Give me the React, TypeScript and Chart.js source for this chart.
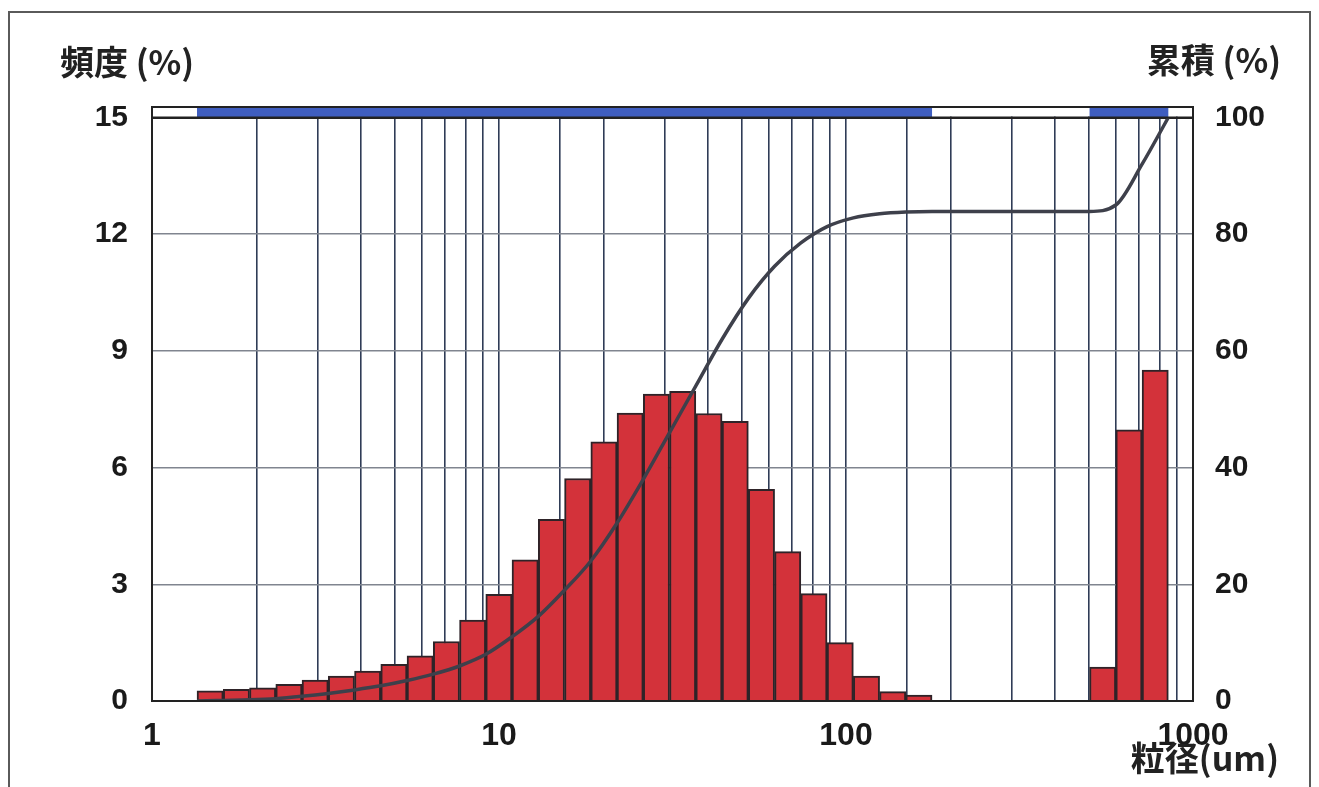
import { useEffect, useRef } from 'react';
import { Chart, registerables } from 'chart.js';

Chart.register(...registerables);

// Bin edges of the particle-size classes (µm)
const binEdges = [
  1.348, 1.605, 1.91, 2.274, 2.706, 3.221, 3.834, 4.564, 5.432, 6.466, 7.697, 9.161,
  10.9, 12.98, 15.45, 18.39, 21.89, 26.05, 31.01, 36.92, 43.94, 52.31, 62.26, 74.11,
  88.21, 105.0, 125.0, 148.7, 177.0, 210.7, 250.8, 298.5, 355.4, 423.0, 503.4, 599.2,
  713.3, 849.0,
];

// Frequency (%) for each class (between consecutive edges)
const frequency = [
  0.26, 0.3, 0.34, 0.43, 0.54, 0.64, 0.77, 0.94, 1.16, 1.53, 2.08, 2.74, 3.63, 4.67,
  5.72, 6.66, 7.4, 7.89, 7.96, 7.39, 7.19, 5.44, 3.84, 2.76, 1.5, 0.64, 0.24, 0.15,
  0, 0, 0, 0, 0, 0, 0.87, 6.97, 8.51,
];

// Cumulative (%) at each bin edge
const cumulative = [
  0, 0.1, 0.2, 0.4, 0.8, 1.3, 1.9, 2.6, 3.5, 4.6, 6.0, 8.0, 11.0, 14.5, 19.0, 24.0,
  30.5, 38.0, 46.0, 54.0, 62.0, 69.0, 74.5, 78.5, 81.3, 82.8, 83.5, 83.8, 83.9, 83.9,
  83.9, 83.9, 83.9, 83.9, 83.9, 85.0, 92.0, 100,
];

// Measured-range indicator band (µm) at the top of the plot
const bandRanges = [
  [1.348, 177.0],
  [503.4, 849.0],
];
const bandLevel = 15.14;

const xTicks = [1, 10, 100, 1000];
const xTickLabels = ['1', '10', '100', '1000'];

const leftTitle = '頻度 (%)';
const rightTitle = '累積 (%)';
const xTitle = '粒径(um)';

const yMax = 15.27;
const y2Max = (yMax / 15) * 100;

const decorPlugin = {
  id: 'decor',
  beforeDraw(chart: any) {
    const ctx = chart.ctx;
    ctx.save();
    ctx.fillStyle = '#ffffff';
    ctx.fillRect(0, 0, chart.width, chart.height);
    ctx.restore();
  },
  beforeDatasetsDraw(chart: any) {
    const { ctx, chartArea: a, scales } = chart;
    const y15 = scales.y.getPixelForValue(15);
    ctx.save();
    ctx.fillStyle = '#ffffff';
    ctx.fillRect(a.left + 1, a.top, a.right - a.left - 2, y15 - a.top - 1);
    ctx.restore();
  },
  afterDatasetsDraw(chart: any) {
    const { ctx, chartArea: a, scales } = chart;
    const y15 = scales.y.getPixelForValue(15);
    ctx.save();
    ctx.strokeStyle = '#222222';
    ctx.lineWidth = 2;
    ctx.strokeRect(a.left, a.top, a.right - a.left, a.bottom - a.top);
    ctx.beginPath();
    ctx.moveTo(a.left, y15);
    ctx.lineTo(a.right, y15);
    ctx.stroke();
    ctx.restore();
  },
  afterDraw(chart: any) {
    const ctx = chart.ctx;
    ctx.save();
    ctx.fillStyle = '#222222';
    ctx.font = 'bold 34px "Noto Sans CJK JP"';
    ctx.textBaseline = 'middle';
    ctx.textAlign = 'left';
    ctx.fillText(leftTitle, 60, 62);
    ctx.textAlign = 'right';
    ctx.fillText(rightTitle, 1281, 60);
    ctx.fillText(xTitle, 1279, 758);
    ctx.strokeStyle = '#5a5a5a';
    ctx.lineWidth = 2;
    ctx.strokeRect(9, 12, 1301, 820);
    ctx.restore();
  },
};

const tickFont = { family: '"Liberation Sans", Arial, sans-serif', size: 30, weight: 'bold' as const };

export default function App() {
  const ref = useRef<HTMLCanvasElement>(null);

  useEffect(() => {
    document.body.style.margin = '0';
    document.body.style.overflow = 'hidden';
    const barPoints = frequency.map((v, i) => ({
      x: Math.sqrt(binEdges[i] * binEdges[i + 1]),
      y: v,
    }));
    const cumPoints = cumulative.map((v, i) => ({ x: binEdges[i], y: v }));
    const bandSets = bandRanges.map((r) => ({
      type: 'line' as const,
      data: [
        { x: r[0], y: bandLevel },
        { x: r[1], y: bandLevel },
      ],
      xAxisID: 'x',
      yAxisID: 'y',
      borderColor: '#3f5ec0',
      borderWidth: 10,
      borderCapStyle: 'butt' as const,
      pointRadius: 0,
      fill: false,
      order: 2,
    }));

    const chart = new Chart(ref.current!, {
      type: 'bar',
      data: {
        datasets: [
          {
            type: 'line',
            label: '累積',
            data: cumPoints,
            xAxisID: 'x',
            yAxisID: 'y2',
            borderColor: '#3e404b',
            borderWidth: 3.5,
            pointRadius: 0,
            cubicInterpolationMode: 'monotone',
            fill: false,
            order: 0,
          } as any,
          {
            type: 'bar',
            label: '頻度',
            data: barPoints,
            xAxisID: 'x',
            yAxisID: 'y',
            backgroundColor: '#d3323a',
            borderColor: '#2e2328',
            borderWidth: 2,
            barThickness: 'flex',
            barPercentage: 1,
            categoryPercentage: 1,
            order: 1,
          } as any,
          ...(bandSets as any[]),
        ],
      },
      options: {
        animation: false,
        responsive: false,
        maintainAspectRatio: false,
        layout: { padding: { top: 107, left: 0, right: 0, bottom: 0 } },
        plugins: {
          legend: { display: false },
          tooltip: { enabled: false },
        },
        scales: {
          x: {
            type: 'logarithmic',
            position: 'bottom',
            min: 1,
            max: 1000,
            offset: false,
            grid: { offset: false, color: '#2f3c56', lineWidth: 1.6, drawTicks: false },
            border: { color: '#222222', width: 2 },
            ticks: {
              autoSkip: false,
              maxRotation: 0,
              minRotation: 0,
              padding: 16,
              color: '#1a1a1a',
              font: { ...tickFont, size: 32 },
              callback: (v: any) => {
                const i = xTicks.indexOf(Number(v));
                return i >= 0 ? xTickLabels[i] : '';
              },
            },
            afterFit: (s: any) => {
              s.height = 86;
            },
          } as any,
          y: {
            type: 'linear',
            position: 'left',
            min: 0,
            max: yMax,
            grid: {
              drawTicks: false,
              color: (c: any) => (c.tick && c.tick.value === 15 ? '#222222' : '#80858f'),
              lineWidth: (c: any) => (c.tick && c.tick.value === 15 ? 2 : 1.5),
            },
            border: { color: '#222222', width: 2 },
            ticks: {
              stepSize: 3,
              includeBounds: false,
              padding: 24,
              color: '#1a1a1a',
              font: tickFont,
            },
            afterFit: (s: any) => {
              s.width = 152;
            },
          } as any,
          y2: {
            type: 'linear',
            position: 'right',
            min: 0,
            max: y2Max,
            grid: { drawOnChartArea: false, drawTicks: false },
            border: { color: '#222222', width: 2 },
            ticks: {
              stepSize: 20,
              includeBounds: false,
              padding: 22,
              color: '#1a1a1a',
              font: tickFont,
            },
            afterFit: (s: any) => {
              s.width = 126;
            },
          } as any,
        },
      },
      plugins: [decorPlugin],
    });
    return () => chart.destroy();
  }, []);

  return (
    <canvas
      ref={ref}
      width={1319}
      height={787}
      style={{ display: 'block', width: '1319px', height: '787px' }}
    />
  );
}
